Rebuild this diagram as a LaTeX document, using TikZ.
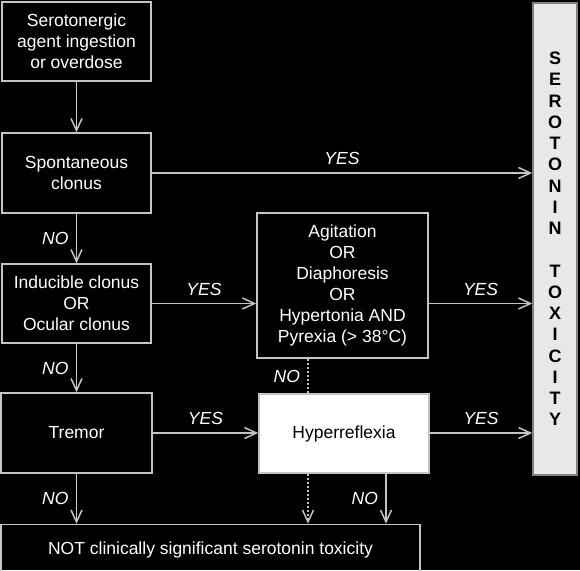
\documentclass[tikz,border=0pt]{standalone}
\usepackage{fontspec}
\setmainfont{Liberation Sans}
\usepackage{tikz}
\usetikzlibrary{arrows.meta, positioning}
\definecolor{linegray}{HTML}{C4C4C4}
\definecolor{boxgray}{HTML}{E8E8E8}
\tikzset{>={Straight Barb[length=12pt,width=11pt]}}

\begin{document}
\begin{tikzpicture}[x=1pt, y=-1pt, line width=1.5pt,
    box/.style={draw=linegray, text=white, align=center, inner sep=0pt,
        font=\fontsize{17.5}{21}\selectfont},
    ans/.style={text=white, font=\fontsize{17.5}{21}\selectfont\itshape},
    link/.style={draw=linegray, ->},
    dots/.style={draw=linegray, dash pattern=on 2pt off 2pt}]
    \fill[black](0,0) rectangle (580,570);
    \useasboundingbox (0,0) rectangle (580,570);
    \node[box, minimum width=149pt, minimum height=79pt] (ingest) at (76.5,41.5)
        {Serotonergic\\agent ingestion\\or overdose};
    \node[box, minimum width=149pt, minimum height=80pt] (spont) at (76.5,173)
        {Spontaneous\\clonus};
    \node[box, minimum width=149pt, minimum height=79pt] (induc) at (76.5,303.5)
        {Inducible clonus\\OR\\Ocular clonus};
    \node[box, minimum width=151pt, minimum height=80pt] (tremor) at (76.5,433) {Tremor};
    \node[box, minimum width=171pt, minimum height=145pt] (agit) at (342.5,285.5)
        {Agitation\\OR\\Diaphoresis\\OR\\Hypertonia AND\\Pyrexia (> 38°C)};
    \node[box, fill=white, text=black, minimum width=170pt, minimum height=79pt] (hyper) at (344,433.5)
        {Hyperreflexia};
    \node[box, draw=gray, fill=boxgray, text=black, minimum width=44pt, minimum height=472pt,
        font=\fontsize{18}{21.25}\selectfont\bfseries] (tox) at (555,239)
        {S\\E\\R\\O\\T\\O\\N\\I\\N\\\mbox{}\\T\\O\\X\\I\\C\\I\\T\\Y};
    \node[box, minimum width=419pt, minimum height=50pt] (notsig) at (210.5,549.5)
        {NOT clinically significant serotonin toxicity};
    \coordinate (dotx) at (308,0);
    \coordinate (nox) at (386,0);
    \draw[link](ingest)--(spont);
    \draw[link](spont)--node[ans, left=4pt]{NO}(induc);
    \draw[link](induc)--node[ans, left=4pt]{NO}(tremor);
    \draw[link](tremor.south)--node[ans, left=4pt]{NO}(tremor.south |- notsig.north);
    \draw[link](spont.east)--node[ans, above=4pt]{YES}(spont.east -| tox.west);
    \draw[link](induc.east)--node[ans, above=4pt]{YES}(induc.east -| agit.west);
    \draw[link](induc.east -| agit.east)--node[ans, above=4pt]{YES}(induc.east -| tox.west);
    \draw[link](tremor.east)--node[ans, above=4pt]{YES}(tremor.east -| hyper.west);
    \draw[link](tremor.east -| hyper.east)--node[ans, above=4pt]{YES}(tremor.east -| tox.west);
    \draw[dots](agit.south -| dotx)--node[ans, left=4pt]{NO}(hyper.north -| dotx);
    \draw[dots, ->](hyper.south -| dotx)--(notsig.north -| dotx);
    \draw[link](hyper.south -| nox)--node[ans, left=4pt]{NO}(notsig.north -| nox);
\end{tikzpicture}
\end{document}
